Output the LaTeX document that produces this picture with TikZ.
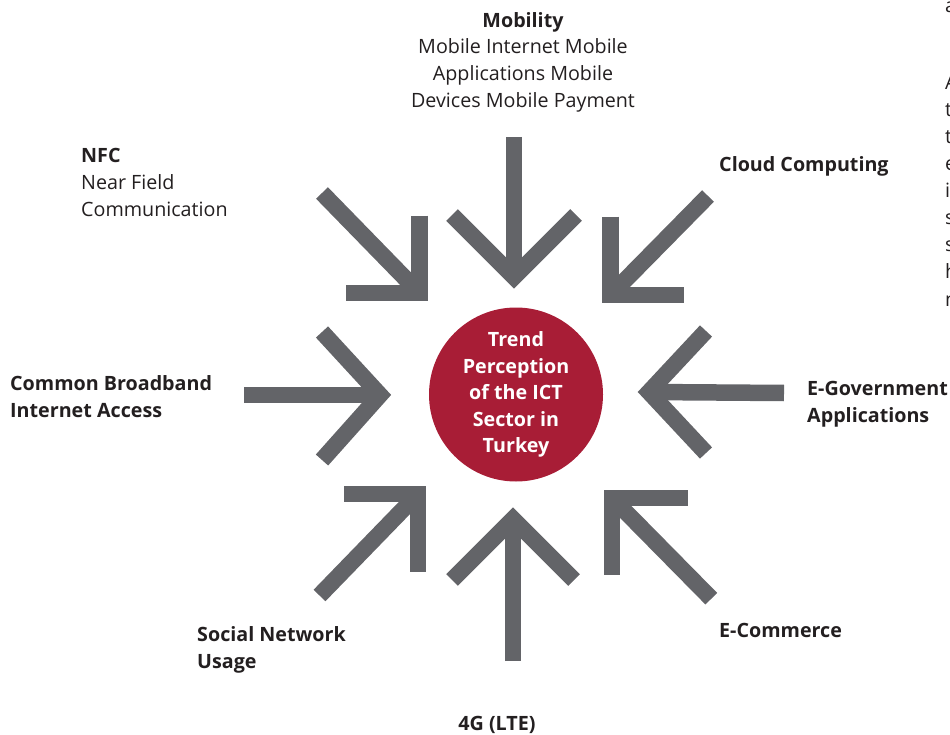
\documentclass[tikz,border=0pt]{standalone}
\usepackage{fontspec}
\IfFontExistsTF{Open Sans SemiBold}
  {\setmainfont{Open Sans}[BoldFont={Open Sans SemiBold}]}
  {\setmainfont{Open Sans}}
\definecolor{arrowgrey}{RGB}{99,100,104}
\definecolor{trendred}{RGB}{168,29,54}
\definecolor{txt}{RGB}{35,31,32}
\begin{document}
\begin{tikzpicture}[x=1pt,y=-1pt,
  bar/.style={draw=arrowgrey, line width=16.5pt, line join=miter, line cap=butt, miter limit=10},
  lbl/.style={inner sep=0pt, text=txt, font=\fontsize{19.7}{26.7}\selectfont},
  hub/.style={circle, fill=trendred, minimum size=174pt, inner sep=0pt, text=white, align=center, font=\fontsize{19.7}{26.6}\selectfont\bfseries}]
\useasboundingbox (0,0) rectangle (950,735);

% centre
\node[hub] (hub) at (516,394.5) {Trend\\Perception\\of the ICT\\Sector in\\Turkey};

% labels
\node[lbl, anchor=north, align=center] (mob) at (523,12) {\textbf{Mobility}\\Mobile Internet Mobile\\Applications Mobile\\Devices Mobile Payment};
\node[lbl, anchor=north west, align=left] (nfc) at (81,148.5) {\textbf{NFC}\\Near Field\\Communication};
\node[lbl, anchor=base west] (cloud) at (719,172) {\textbf{Cloud Computing}};
\node[lbl, anchor=north west, align=left] (bb) at (10,375.6) {\textbf{Common Broadband}\\\textbf{Internet Access}};
\node[lbl, anchor=north west, align=left] (egov) at (807,381) {\textbf{E-Government}\\\textbf{Applications}};
\node[lbl, anchor=north west, align=left] (soc) at (197,626.6) {\textbf{Social Network}\\\textbf{Usage}};
\node[lbl, anchor=base west] (ecom) at (719,637) {\textbf{E-Commerce}};
\node[lbl, anchor=base] (lte) at (497,730) {\textbf{4G (LTE)}};

% cropped text at right edge
\foreach \ch/\yy [count=\i] in {a/13,A/90,t/117,t/144,e/171,i/198,s/225,s/252,h/279,n/306}
  \node[lbl, anchor=base west] (edge\i) at (945,\yy) {\ch};

% arrow coordinates
% top
\coordinate (tS) at (514,137);   \coordinate (tT) at (514,277);
\coordinate (tA) at (452,215);   \coordinate (tB) at (576,215);
% bottom
\coordinate (bS) at (513,661);   \coordinate (bT) at (513,519);
\coordinate (bA) at (452,580);   \coordinate (bB) at (574,580);
% left
\coordinate (lS) at (244,395);   \coordinate (lT) at (380,395);
\coordinate (lA) at (322,332);   \coordinate (lB) at (322,460);
% right
\coordinate (rS) at (784,393);   \coordinate (rT) at (649,392);
\coordinate (rA) at (706,331);   \coordinate (rB) at (706,453);
% NFC (top left)
\coordinate (nS) at (322,193);   \coordinate (nC) at (419.5,293);
\coordinate (nA) at (419.5,215.7); \coordinate (nB) at (345.7,293);
% cloud (top right)
\coordinate (cS) at (708,196);   \coordinate (cC) at (610.5,295);
\coordinate (cA) at (610.5,216.7); \coordinate (cB) at (684.3,295);
% social (bottom left)
\coordinate (sS) at (319.5,595.5); \coordinate (sC) at (418,494);
\coordinate (sA) at (344,494);   \coordinate (sB) at (418,571.7);
% e-commerce (bottom right)
\coordinate (eS) at (711.3,598.7); \coordinate (eC) at (612,498);
\coordinate (eA) at (687.7,498); \coordinate (eB) at (612,575);

\foreach \p/\q in {t/T,b/T,l/T,r/T,n/C,c/C,s/C,e/C}{
  \draw[bar] (\p S) -- (\p\q);
  \draw[bar] (\p A) -- (\p\q) -- (\p B);
}
\end{tikzpicture}
\end{document}
